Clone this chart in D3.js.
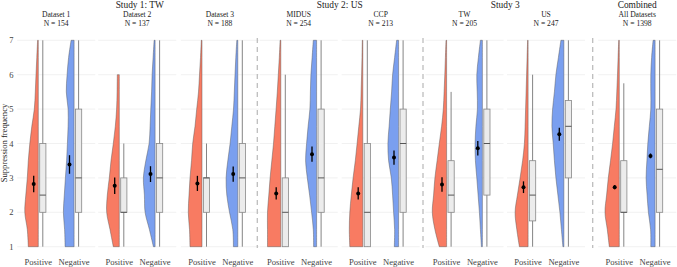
<!DOCTYPE html>
<html><head><meta charset="utf-8">
<script src="https://cdn.jsdelivr.net/npm/d3@7"></script>
<style>body{margin:0;background:#fff}svg{display:block}text{font-family:"Liberation Serif","DejaVu Serif",serif;fill:#222}</style>
</head><body><svg id="c" width="677" height="267"></svg>
<script>
// ---------- data ----------
const facets = ["Dataset 1","Dataset 2","Dataset 3","MIDUS","CCP","TW","US","All Datasets"];
const facetN = [154,137,188,254,213,205,247,1398];
const studies = ["Study 1: TW","Study 2: US","Study 3","Combined"];
const studyFacets = [[0,1,2],[3,4],[5,6],[7]];
const groups = ["Positive","Negative"];
const yTicks = [1,2,3,4,5,6,7];
const densityLevels = [1,1.5,2,2.5,3,3.5,4,4.5,5,5.5,6,6.5,7];
// relative density (half-violin width) at each level, per facet
const densPositive = [
  [10,11,13.5,12.5,11,10,8.5,6.5,4,3,2.3,1.5,0.7],
  [6,9.3,12.6,12,10,8.3,6,4,2.7,2.2,2,null,null],
  [12,12.5,13.7,13,12,10.5,9.3,7,5.3,3.5,2.5,1.5,0.7],
  [13.3,13.3,13.3,12,10.7,9,7.3,6,4.7,3.5,2.5,1.5,0.7],
  [13,13.5,13,11.5,9.7,7.5,5.7,4,2.3,1.7,1.2,0.8,0.5],
  [7.3,11.7,14.3,13,11.7,9.5,7.3,5,3.3,2.5,1.8,1.2,0.6],
  [8.7,11.3,13,10.7,8,5.5,3.7,3,2.5,2,1.5,1,0.5],
  [10,12,14.3,12.7,11,8.8,6.7,5,3.3,2.5,1.8,1.2,0.6]
];
const densNegative = [
  [9,9.5,10.7,9.8,8.7,7.5,6.7,6,6,7.8,7,5.5,3],
  [1.7,5.7,10,10.7,11.7,9.3,6,5,4.3,3.5,3,2,1],
  [4.4,5,8.3,11,11.7,10,7.7,6,4.3,3.5,2.8,2,1],
  [3,3.3,5,7,9.3,11,10,8.5,6.7,6.2,5.7,4.5,3.3],
  [4.3,4,5,6,7.3,10,10.7,9.5,8.3,7,6,4,2],
  [1,2,3,4.3,5.6,7,7.3,6.5,5,5.2,5.6,4,2],
  [1,2.5,4,6,8,9.5,10.7,12,11.3,9.5,8,5.5,3],
  [4.3,4.5,6.7,8,9,8.2,7.3,5.8,4.3,4.3,4.3,3.5,2]
];
// box stats: [lower whisker, q1, median, q3, upper whisker]
const boxPositive = [[1,2,2.5,4,7],[1,2,2,3,4],[1,2,3,3,4],[1,1,2,3,6],[1,1,2,4,7],[1,2,2.5,3.5,5.5],[1,1.75,2.5,3.5,6],[1,2,2,3.5,5.75]];
const boxNegative = [[1,2,3,5,7],[1,2,3,4,7],[1,2,3,4,7],[1,2,3,5,7],[1,2,4,5,7],[1,2.5,4,5,7],[1,3,4.5,5.25,7],[1,2,3.25,5,7]];
const meanPositive = [2.82,2.77,2.84,2.55,2.55,2.81,2.73,2.73];
const ciPositive   = [0.24,0.24,0.22,0.18,0.18,0.21,0.17,0.06];
const meanNegative = [3.39,3.11,3.11,3.69,3.59,3.86,4.27,3.64];
const ciNegative   = [0.27,0.23,0.22,0.22,0.21,0.21,0.19,0.07];

// ---------- layout ----------
const facetCenters = [56.2,137.2,219.9,298.7,380.7,464.5,546,637.2];
const separators = [257.3,423,592.7];
const colors = {Positive:"#F87B62", Negative:"#7A9FEF"};

const svg = d3.select("#c");
const y = d3.scaleLinear().domain([1,7]).range([246.7,40.3]);
const w = d3.scaleLinear().domain([0,1]).range([0,1]);

// y axis labels
svg.append("g").selectAll("text").data(yTicks).join("text")
  .attr("x",13.5).attr("y",d=>y(d)+3).attr("text-anchor","end")
  .attr("font-size",8.5).style("fill","#444").text(d=>d);
svg.append("text").attr("transform","translate(6.5,143) rotate(-90)")
  .attr("text-anchor","middle").attr("font-size",8.6).text("Suppression frequency");

facets.forEach((f,i)=>{
  const c = facetCenters[i];
  const x = d3.scalePoint().domain(groups).range([c-17.9,c+17.9]);
  const g = svg.append("g");
  // gridlines
  g.selectAll("line.grid").data(yTicks).join("line")
    .attr("x1",c-39).attr("x2",c+39).attr("y1",d=>y(d)).attr("y2",d=>y(d))
    .attr("stroke","#EBEBEB").attr("stroke-width",0.7);
  // facet label
  g.append("text").attr("x",c).attr("y",17.4).attr("text-anchor","middle").attr("font-size",7.6).text(f);
  g.append("text").attr("x",c).attr("y",26).attr("text-anchor","middle").attr("font-size",7.6).text("N = "+facetN[i]);

  groups.forEach(grp=>{
    const e = x(grp);
    const dens = (grp==="Positive"?densPositive:densNegative)[i];
    const box = (grp==="Positive"?boxPositive:boxNegative)[i];
    const m = (grp==="Positive"?meanPositive:meanNegative)[i];
    const ci = (grp==="Positive"?ciPositive:ciNegative)[i];
    const pts = densityLevels.map((v,k)=>({v,d:dens[k]})).filter(p=>p.d!==null);
    const area = d3.area().curve(d3.curveCatmullRom.alpha(0.5))
      .y(p=>y(p.v)).x0(p=>e - w(p.d)).x1(e);
    g.append("path").datum(pts).attr("d",area)
      .attr("fill",colors[grp]).attr("stroke","#555").attr("stroke-width",0.45);
    // boxplot
    const bx0 = e+1.4, bw = 6.2, bc = bx0+bw/2;
    g.append("line").attr("x1",bc).attr("x2",bc).attr("y1",y(box[4])).attr("y2",y(box[0]))
      .attr("stroke","#777").attr("stroke-width",0.9);
    g.append("rect").attr("x",bx0).attr("width",bw).attr("y",y(box[3])).attr("height",Math.max(0.5,y(box[1])-y(box[3])))
      .attr("fill","#ECECEC").attr("stroke","#888").attr("stroke-width",0.8);
    g.append("line").attr("x1",bx0).attr("x2",bx0+bw).attr("y1",y(box[2])).attr("y2",y(box[2]))
      .attr("stroke","#555").attr("stroke-width",1);
    // mean + CI
    const mx = e-4.6;
    g.append("line").attr("x1",mx).attr("x2",mx).attr("y1",y(m+ci)).attr("y2",y(m-ci))
      .attr("stroke","#000").attr("stroke-width",1.3);
    g.append("circle").attr("cx",mx).attr("cy",y(m)).attr("r",2).attr("fill","#000");
    // x label
    g.append("text").attr("x",e).attr("y",265.3).attr("text-anchor","middle")
      .attr("font-size",8.6).style("fill","#444").text(grp);
  });
});

// study titles
studies.forEach((s,k)=>{
  const cs = studyFacets[k].map(i=>facetCenters[i]);
  svg.append("text").attr("x",d3.mean(cs)+ (k===0?2:0)).attr("y",7.6).attr("text-anchor","middle")
    .attr("font-size",9.4).text(s);
});

// separators
svg.selectAll("line.sep").data(separators).join("line")
  .attr("x1",d=>d).attr("x2",d=>d).attr("y1",38).attr("y2",248)
  .attr("stroke","#BDBDBD").attr("stroke-width",1.3).attr("stroke-dasharray","5,4");
</script></body></html>
